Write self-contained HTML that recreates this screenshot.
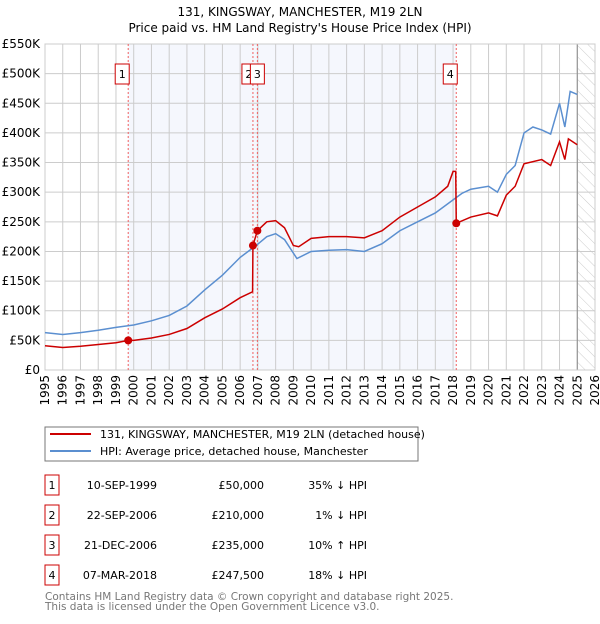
<!DOCTYPE html>
<html><head><meta charset="utf-8"><style>
body{margin:0;background:#fff;font-family:"DejaVu Sans","Liberation Sans",sans-serif;}
svg text{font-family:"DejaVu Sans","Liberation Sans",sans-serif;}
</style></head><body>
<svg id="c" width="600" height="620" xmlns="http://www.w3.org/2000/svg">
<defs><pattern id="hatch" width="8" height="8" patternUnits="userSpaceOnUse" patternTransform="rotate(-45)"><line x1="0" y1="0" x2="0" y2="8" stroke="#ccc" stroke-width="1"/></pattern></defs>
<text x="300" y="16" text-anchor="middle" font-size="12">131, KINGSWAY, MANCHESTER, M19 2LN</text>
<text x="300" y="32" text-anchor="middle" font-size="12">Price paid vs. HM Land Registry's House Price Index (HPI)</text>
<g id="grid"></g><g id="marks"></g>
<rect x="45" y="427" width="373" height="34" fill="#fff" stroke="#777"/>
<line x1="50" y1="434" x2="91" y2="434" stroke="#cc0000" stroke-width="2"/>
<text x="100" y="438" font-size="11">131, KINGSWAY, MANCHESTER, M19 2LN (detached house)</text>
<line x1="50" y1="451" x2="91" y2="451" stroke="#5b8fd0" stroke-width="2"/>
<text x="100" y="455" font-size="11">HPI: Average price, detached house, Manchester</text>
<g id="table" font-size="11"></g>
<text x="45" y="600" font-size="10.5" fill="#777">Contains HM Land Registry data © Crown copyright and database right 2025.</text>
<text x="45" y="610" font-size="10.5" fill="#777">This data is licensed under the Open Government Licence v3.0.</text>
</svg>
<script>
const hpiYears=[1995,1996,1997,1998,1999,2000,2001,2002,2003,2004,2005,2006,2006.9,2007.5,2008,2008.5,2009.2,2010,2011,2012,2013,2014,2015,2016,2017,2018,2018.5,2019,2020,2020.5,2021,2021.5,2022,2022.5,2023,2023.5,2024,2024.3,2024.6,2025];
const hpiValues=[63,60,63,67,72,76,83,92,108,135,160,190,210,225,230,220,188,200,202,203,200,213,235,250,265,287,298,305,310,300,330,345,400,410,405,398,450,410,470,465];
const priceYears=[1995,1996,1997,1998,1999,1999.7,2000,2001,2002,2003,2004,2005,2006,2006.7,2006.72,2006.97,2007.5,2008,2008.5,2009,2009.3,2010,2011,2012,2013,2014,2015,2016,2017,2017.7,2018.0,2018.15,2018.18,2019,2020,2020.5,2021,2021.5,2022,2023,2023.5,2024,2024.3,2024.5,2025];
const priceValues=[41,38,40,43,46,50,50,54,60,70,88,103,122,132,210,235,250,252,240,210,208,222,225,225,223,235,258,275,292,310,335,335,247.5,258,265,260,295,310,348,355,345,385,355,390,380];
const saleYears=[1999.69,2006.72,2006.97,2018.18];
const saleValues=[50,210,235,247.5];
const saleLabels=["1","2","3","4"];
const saleDates=["10-SEP-1999","22-SEP-2006","21-DEC-2006","07-MAR-2018"];
const salePrices=["£50,000","£210,000","£235,000","£247,500"];
const saleHpi=["35% ↓ HPI","1% ↓ HPI","10% ↑ HPI","18% ↓ HPI"];
const yTicks=[0,50,100,150,200,250,300,350,400,450,500,550];
const xTicks=[1995,1996,1997,1998,1999,2000,2001,2002,2003,2004,2005,2006,2007,2008,2009,2010,2011,2012,2013,2014,2015,2016,2017,2018,2019,2020,2021,2022,2023,2024,2025,2026];
const X0=45,X1=595,Y0=370,Y1=44;
const x=v=>X0+(v-1995)*(X1-X0)/31;
const y=v=>Y0-v*(Y0-Y1)/550;
const NS="http://www.w3.org/2000/svg";
function mk(p,t,a){const e=document.createElementNS(NS,t);for(const k in a)e.setAttribute(k,a[k]);p.appendChild(e);return e;}
const g=document.getElementById('grid'),m=document.getElementById('marks');
let r=mk(g,'rect',{x:x(saleYears[0]),y:Y1,width:x(saleYears[3])-x(saleYears[0]),height:Y0-Y1,fill:'#eef2fc',opacity:0.6});


r=mk(g,'rect',{x:x(2025),y:Y1,width:X1-x(2025),height:Y0-Y1,fill:'url(#hatch)'});


yTicks.forEach(v=>{mk(g,'line',{x1:X0,x2:X1,y1:y(v),y2:y(v),stroke:'#ccc'});
const t=mk(g,'text',{x:40,y:y(v)+4,'text-anchor':'end','font-size':12});t.textContent=v?'£'+v+'K':'£0';

});
xTicks.forEach(v=>{mk(g,'line',{x1:x(v),x2:x(v),y1:Y1,y2:Y0,stroke:'#ccc'});
const t=mk(g,'text',{transform:`translate(${x(v)+4},${375}) rotate(-90)`,'text-anchor':'end','font-size':12});t.textContent=v;

});
mk(g,'line',{x1:x(2025),x2:x(2025),y1:Y1,y2:Y0,stroke:'#888'});
mk(g,'rect',{x:X0,y:Y1,width:X1-X0,height:Y0-Y1,fill:'none',stroke:'#ccc'});
const boxOff=[-13,-11,-7,-13];
saleYears.forEach((v,i)=>{const l=mk(m,'line',{x1:x(v),x2:x(v),y1:Y1,y2:Y0,stroke:'#f06060','stroke-dasharray':'2,2'});


const bx=x(v)+boxOff[i];
const b=mk(m,'rect',{x:bx,y:64,width:14,height:20,fill:'#fff',stroke:'#cc0000'});


const t=mk(m,'text',{x:bx+7,y:78,'text-anchor':'middle','font-size':11});t.textContent=saleLabels[i];

});
let p=mk(m,'polyline',{points:hpiYears.map((v,i)=>x(v)+','+y(hpiValues[i])).join(' '),fill:'none',stroke:'#5b8fd0','stroke-width':1.5});


p=mk(m,'polyline',{points:priceYears.map((v,i)=>x(v)+','+y(priceValues[i])).join(' '),fill:'none',stroke:'#cc0000','stroke-width':1.5});


saleYears.forEach((v,i)=>{const c=mk(m,'circle',{cx:x(v),cy:y(saleValues[i]),r:4,fill:'#cc0000'});

});
const tb=document.getElementById('table');
saleLabels.forEach((s,i)=>{const yy=483+i*30;
const b=mk(tb,'rect',{x:45,y:yy-8,width:14,height:20,fill:'#fff',stroke:'#cc0000'});


[[52,s,'middle'],[157,saleDates[i],'end'],[264,salePrices[i],'end'],[367,saleHpi[i],'end']].forEach(([xx,tx,a])=>{
const t=mk(tb,'text',{x:xx,y:yy+6,'text-anchor':a});t.textContent=tx;

});});
</script>
</body></html>
